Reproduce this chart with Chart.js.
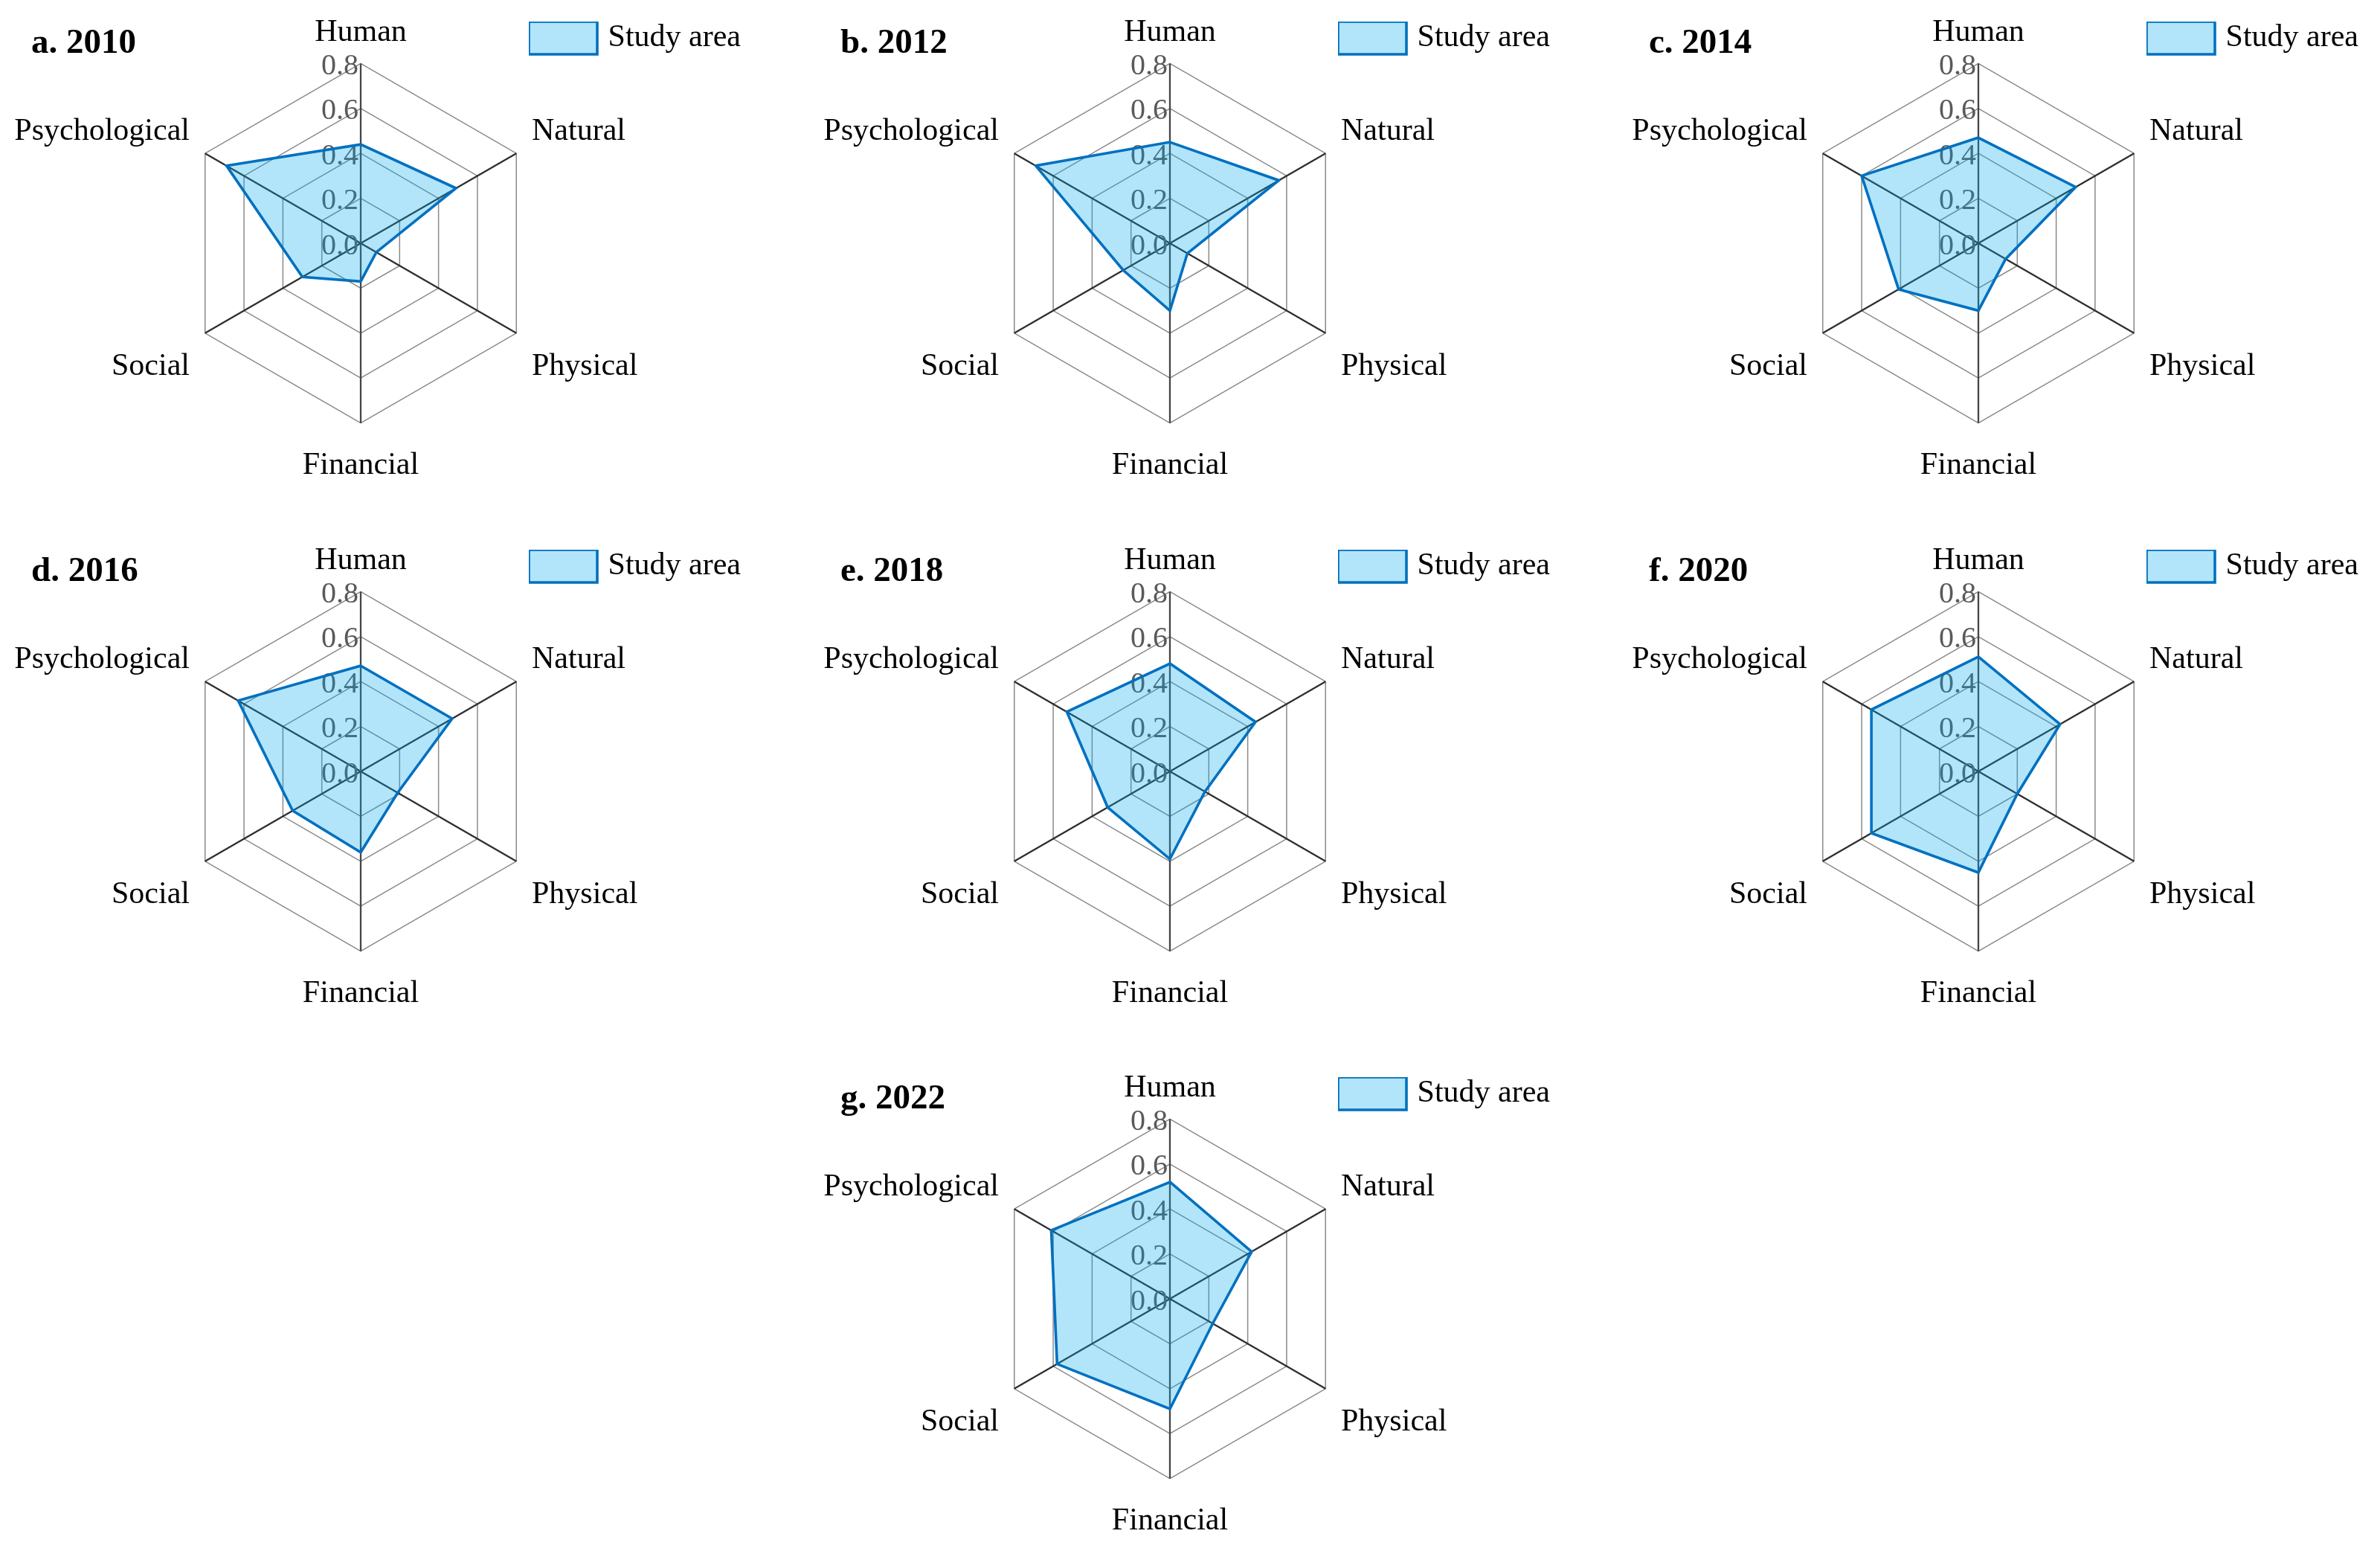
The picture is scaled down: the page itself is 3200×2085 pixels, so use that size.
<!DOCTYPE html>
<html>
<head>
<meta charset="utf-8">
<script src="https://cdn.jsdelivr.net/npm/chart.js@4.4.1/dist/chart.umd.min.js"></script>
<style>
  html, body { margin: 0; padding: 0; background: #ffffff; width: 3200px; height: 2085px; overflow: hidden; position: relative; }
  canvas { position: absolute; }
</style>
</head>
<body>
<script>
// ---------------- data ----------------
const categories = ['Human', 'Natural', 'Physical', 'Financial', 'Social', 'Psychological'];
const seriesLabel = 'Study area';
const panelTitles = ['a. 2010', 'b. 2012', 'c. 2014', 'd. 2016', 'e. 2018', 'f. 2020', 'g. 2022'];
const tickLabels = ['0.0', '0.2', '0.4', '0.6', '0.8'];

const values2010 = [0.44, 0.49, 0.08, 0.17, 0.30, 0.69];
const values2012 = [0.45, 0.56, 0.09, 0.30, 0.24, 0.69];
const values2014 = [0.47, 0.50, 0.14, 0.30, 0.41, 0.60];
const values2016 = [0.47, 0.47, 0.19, 0.36, 0.35, 0.63];
const values2018 = [0.48, 0.44, 0.18, 0.39, 0.32, 0.53];
const values2020 = [0.51, 0.42, 0.20, 0.45, 0.55, 0.55];
const values2022 = [0.52, 0.42, 0.22, 0.49, 0.58, 0.61];
const panelValues = [values2010, values2012, values2014, values2016, values2018, values2020, values2022];

// ---------------- layout (page positions of each panel's radar centre) ----------------
const panelCenters = [
  [485, 327], [1573, 327], [2660, 327],
  [485, 1037], [1573, 1037], [2660, 1037],
  [1573, 1746]
];
const CW = 1070, CH = 632;
const SERIF = '"Liberation Serif", "Times New Roman", serif';
const LABEL_SHIFT = 8;   // compensates serif baseline metrics of the point labels

const panelDecor = {
  id: 'panelDecor',
  afterLayout(chart) {
    const r = chart.scales.r;
    if (r._pointLabelItems) {
      r._pointLabelItems.forEach((it) => { it.y += LABEL_SHIFT; it.top += LABEL_SHIFT; it.bottom += LABEL_SHIFT; });
    }
    const lg = chart.legend;
    if (lg) {
      lg.left = r.xCenter + 226;
      lg.top = r.yCenter - 298;
      lg.right = r.xCenter + 511;
      lg.bottom = lg.top + 120;
    }
  },
  beforeDatasetsDraw(chart) {
    const r = chart.scales.r;
    const ctx = chart.ctx;
    ctx.save();
    ctx.font = '40px ' + SERIF;
    ctx.fillStyle = '#5a5a5a';
    ctx.textAlign = 'right';
    ctx.textBaseline = 'middle';
    r.ticks.forEach((t) => {
      const d = r.getDistanceFromCenterForValue(t.value);
      ctx.fillText(t.label, r.xCenter - 3, r.yCenter - d + 4);
    });
    ctx.restore();
  },
  afterDraw(chart, args, opts) {
    const r = chart.scales.r;
    const ctx = chart.ctx;
    ctx.save();
    ctx.font = 'bold 47px ' + SERIF;
    ctx.fillStyle = '#000';
    ctx.textAlign = 'left';
    ctx.textBaseline = 'alphabetic';
    ctx.fillText(opts.title, r.xCenter - 443, r.yCenter - 256);
    ctx.restore();
  }
};

panelValues.forEach((vals, i) => {
  const cv = document.createElement('canvas');
  cv.width = CW; cv.height = CH;
  cv.style.left = (panelCenters[i][0] - CW / 2) + 'px';
  cv.style.top = (panelCenters[i][1] - CH / 2) + 'px';
  cv.style.width = CW + 'px';
  cv.style.height = CH + 'px';
  document.body.appendChild(cv);

  new Chart(cv, {
    type: 'radar',
    data: {
      labels: categories,
      datasets: [{
        label: seriesLabel,
        data: vals,
        fill: true,
        backgroundColor: 'rgba(0, 170, 240, 0.30)',
        borderColor: '#0070C0',
        borderWidth: 3.6,
        pointRadius: 0,
        pointHoverRadius: 0,
        tension: 0
      }]
    },
    options: {
      responsive: false,
      devicePixelRatio: 1,
      animation: false,
      events: [],
      layout: { padding: 0 },
      scales: {
        r: {
          min: 0,
          max: 0.8,
          beginAtZero: true,
          ticks: {
            display: false,
            stepSize: 0.2,
            callback: (v, idx) => tickLabels[idx]
          },
          grid: { color: '#8a8a8a', lineWidth: 1.5, circular: false },
          angleLines: {
            color: (ctx) => (ctx.index % 3 === 0 ? '#454545' : '#2e2e2e'),
            lineWidth: 2.3
          },
          pointLabels: {
            color: '#000',
            padding: 24,
            font: { family: SERIF, size: 42 }
          }
        }
      },
      plugins: {
        title: { display: false },
        tooltip: { enabled: false },
        legend: {
          display: true,
          position: 'chartArea',
          align: 'start',
          labels: {
            boxWidth: 92,
            boxHeight: 44,
            padding: 0,
            textAlign: 'right',
            color: '#000',
            font: { family: SERIF, size: 42 }
          }
        },
        panelDecor: { title: panelTitles[i] }
      }
    },
    plugins: [panelDecor]
  });
});
</script>
</body>
</html>
